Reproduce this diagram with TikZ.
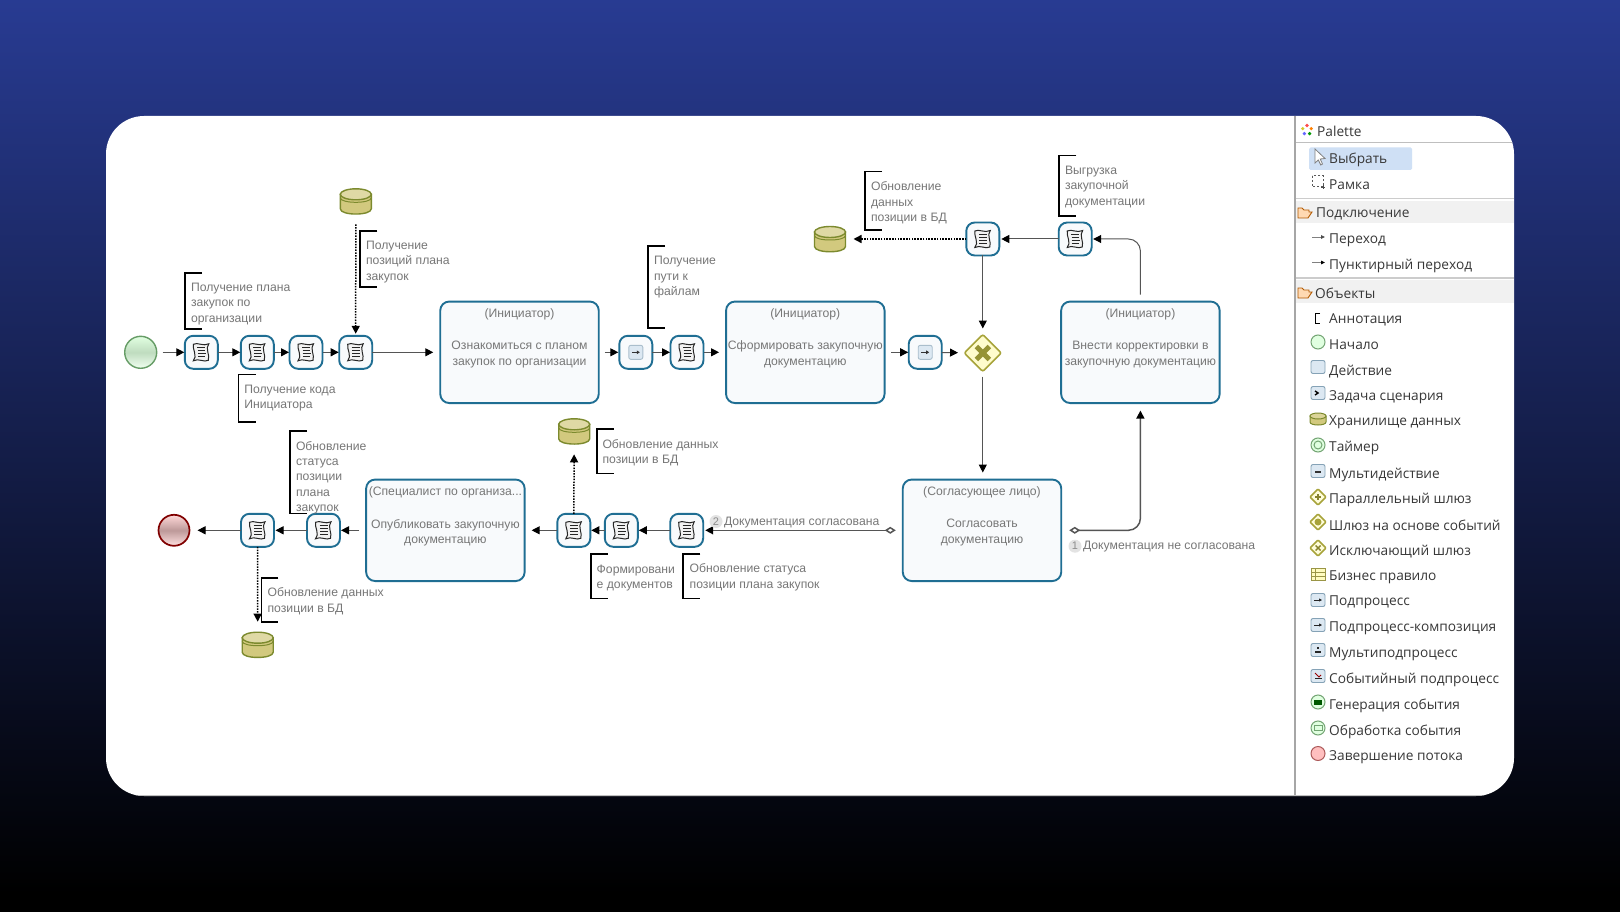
\documentclass[tikz,border=0pt]{standalone}
\usepackage{fontspec}
\setmainfont{Liberation Sans}
\newfontfamily\palfont{Open Sans}
\usetikzlibrary{arrows.meta,shapes.geometric,calc}
\definecolor{boxblue}{HTML}{1F6E93}
\definecolor{taskfill}{HTML}{F8FAFC}
\definecolor{linegray}{HTML}{555555}
\definecolor{txtgray}{HTML}{777777}
\definecolor{dbline}{HTML}{7C8A2E}
\definecolor{dbfill}{HTML}{D2C97E}
\definecolor{navytop}{HTML}{283B92}
\definecolor{bluehi}{HTML}{CFE0F5}
\definecolor{palband}{HTML}{F1F1F1}
\definecolor{iconblue}{HTML}{DCE8F2}
\definecolor{iconedge}{HTML}{85A2B6}
\definecolor{gwline}{HTML}{A7A33A}
\pgfdeclareverticalshading{bgshade}{100bp}{color(0bp)=(black); color(26bp)=(black); color(75bp)=(navytop); color(100bp)=(navytop)}
\pgfdeclareverticalshading{startshade}{100bp}{color(0bp)=(white!80!green!30!white); color(25bp)=(white!80!green!30!white); color(50bp)=(green!45!black!25!white); color(75bp)=(green!12!white); color(100bp)=(green!12!white)}
\pgfdeclareverticalshading{endshade}{100bp}{color(0bp)=(red!12!white); color(25bp)=(red!12!white); color(50bp)=(red!35!black!40!white); color(75bp)=(red!15!white); color(100bp)=(red!15!white)}
\tikzset{
  taskbox/.style={draw=boxblue,line width=1.9pt,rounded corners=9pt,fill=taskfill,minimum width=158.5pt,minimum height=101.5pt,inner sep=0pt,outer sep=0pt},
  minibox/.style={draw=boxblue,line width=1.9pt,rounded corners=8.5pt,fill=taskfill,minimum width=33pt,minimum height=33pt,inner sep=0pt,outer sep=0pt},
  dbbox/.style={minimum width=32pt,minimum height=26pt,inner sep=0pt,outer sep=0pt},
  startev/.style={circle,draw=green!35!black!60!white,line width=1.4pt,minimum size=32pt,inner sep=0pt,outer sep=0pt,shading=startshade},
  endev/.style={circle,draw=red!50!black,line width=1.7pt,minimum size=31pt,inner sep=0pt,outer sep=0pt,shading=endshade},
  gateway/.style={diamond,draw=gwline,line width=1.6pt,fill=yellow!20!white,minimum size=37pt,inner sep=0pt,outer sep=0pt,rounded corners=2pt},
  flow/.style={draw=linegray,line width=1pt,-{Triangle[length=8pt,width=8pt,black]}},
  dotflow/.style={draw=black,line width=1.5pt,dash pattern=on 1.5pt off 1.3pt,-{Triangle[length=8pt,width=8pt,black]}},
  guard/.style={draw=linegray,line width=1.5pt,{Diamond[open,length=11pt,width=7pt]}-{Triangle[length=8pt,width=8pt,black]}},
  txt/.style={font=\fontsize{12.2}{15.35}\selectfont,text=txtgray,inner sep=0pt,outer sep=0pt},
  annot/.style={txt,align=left,anchor=west},
  bracket/.style={draw=black,line width=1.6pt},
  badge/.style={circle,fill=black!11,text=black!45,font=\fontsize{11}{11}\selectfont,minimum size=13pt,inner sep=0pt},
  paltext/.style={font=\palfont\fontsize{13.7}{16}\selectfont,text=black!78,anchor=west,inner sep=0pt},
  palsq/.style={draw=iconedge,line width=.9pt,fill=iconblue,rounded corners=2pt},
}
\newcommand\scripticon[1]{\begin{scope}[shift={(#1.center)}]
  \draw[fill=black!5,draw=black!85,line width=1pt] (-8,-8) .. controls (-4,-10.5) and (2,-5.5) .. (7.5,-8.5) .. controls (3.5,-4) and (9,3) .. (7,8) .. controls (3,10.5) and (-3,5.5) .. (-8,8.5) .. controls (-3.5,4) and (-9,-3) .. (-8,-8) -- cycle;
  \draw[black!85,line width=1pt] (-4,-4.5) -- (4,-4.5) (-3.5,-1.5) -- (4,-1.5) (-3.5,1.5) -- (4.5,1.5) (-3.5,4.5) -- (4,4.5);
\end{scope}}
\newcommand\subicon[1]{\begin{scope}[shift={(#1.center)}]
  \draw[fill=iconblue,draw=iconedge!70,line width=.9pt,rounded corners=2pt] (-7,-7) rectangle (7,7);
  \draw[black!80,line width=.9pt,-{Triangle[length=3pt,width=3.5pt]}] (-4,0) -- (4,0);
\end{scope}}
\newcommand\dbshape[1]{\begin{scope}[shift={(#1.center)}]
  \draw[draw=dbline,fill=dbfill,line width=1.4pt] (-15.5,-7) -- (-15.5,7.5) .. controls (-15.5,14.5) and (15.5,14.5) .. (15.5,7.5) -- (15.5,-7) -- cycle;
  \draw[draw=dbline,fill=dbfill!70!white,line width=1.4pt] (0,-7) ellipse (15.5pt and 5.5pt);
  \draw[draw=dbline,line width=1pt] (-15.5,-3.5) .. controls (-15.5,2.5) and (15.5,2.5) .. (15.5,-3.5);
\end{scope}}
\newcommand\anno[8]{% name x1 x2 y1 y2 textx texty text
  \draw[bracket] (#3,#4) -- (#2,#4) -- (#2,#5) -- (#3,#5);
  \node[annot] (#1) at (#6,#7+1.5) {#8};}
\newcommand\palitem[3]{\node[paltext] (#1) at (1329,#2+1) {#3};}
\newcommand\palsquare[1]{\draw[palsq] (1311,#1-6.5) rectangle (1325,#1+6.5);}
\newcommand\palcircle[3]{\draw[draw=#2,fill=#3,line width=1pt] (1318,#1) circle (7pt);}
\newcommand\paldiamond[1]{\draw[draw=gwline,fill=yellow!15!white,line width=1.5pt,rounded corners=1pt] (1318,#1-8) -- (1326,#1) -- (1318,#1+8) -- (1310,#1) -- cycle;}
\newcommand\folder[1]{\draw[draw=orange!70!black,fill=orange!30!white,line width=.9pt] (1298,#1+5) -- (1298,#1-5) -- (1302,#1-5) -- (1304,#1-3) -- (1309,#1-3) -- (1309,#1-1) -- (1312,#1-1) -- (1308,#1+5) -- cycle;}
\begin{document}
\begin{tikzpicture}[x=1pt,y=-1pt]
\useasboundingbox (0,0) rectangle (1620,912);
\path[shading=bgshade] (0,0) rectangle (1620,912);
\fill[white] (106,116) [rounded corners=38pt] rectangle (1514,796);

% ===== upper row
\node[startev] (start) at (140.7,352.3) {};
\node[minibox] (b1) at (201.3,352.3) {};
\node[minibox] (b2) at (257.3,352.3) {};
\node[minibox] (b3) at (306,352.3) {};
\node[minibox] (b4) at (355.7,352.3) {};
\node[taskbox] (t1) at (519.5,352.3) {};
\node[minibox] (b5) at (635.8,352.3) {};
\node[minibox] (b6) at (687,352.3) {};
\node[taskbox] (t2) at (805.3,352.3) {};
\node[minibox] (b7) at (925.2,352.3) {};
\node[gateway] (gw) at (982.8,353) {};
\node[taskbox] (t3) at (1140.4,352.3) {};
\node[minibox] (b8) at (982.8,239) {};
\node[minibox] (b9) at (1075.2,239) {};
\node[dbbox] (db1) at (355.8,201.3) {};
\node[dbbox] (db2) at (830,239) {};
% ===== lower row
\node[taskbox] (t4) at (982,530.3) {};
\node[minibox] (b14) at (686.7,530.3) {};
\node[minibox] (b13) at (621.3,530.3) {};
\node[minibox] (b12) at (573.8,530.3) {};
\node[taskbox] (t5) at (445.4,530.3) {};
\node[minibox] (b11) at (323.5,530.3) {};
\node[minibox] (b10) at (257.5,530.3) {};
\node[endev] (stop) at (174,530.3) {};
\node[dbbox] (db3) at (574.2,431.3) {};
\node[dbbox] (db4) at (257.7,644.7) {};

\foreach \n in {b1,b2,b3,b4,b6,b8,b9,b10,b11,b12,b13,b14}{\scripticon{\n}}
\subicon{b5}\subicon{b7}
\foreach \n in {db1,db2,db3,db4}{\dbshape{\n}}
\begin{scope}[shift={(gw.center)}]
  \draw[line width=5pt,gwline!90!black] (-6.5,-6.5) -- (6.5,6.5) (-6.5,6.5) -- (6.5,-6.5);
\end{scope}

% ===== connectors
\draw[flow,shorten <=6pt,shorten >=.5pt] (start) -- (b1);
\draw[flow,shorten >=.5pt] (b1) -- (b2);
\draw[flow,shorten >=.5pt] (b2) -- (b3);
\draw[flow,shorten >=.5pt] (b3) -- (b4);
\draw[flow,shorten >=7pt] (b4) -- (t1);
\draw[flow,shorten <=6pt,shorten >=1pt] (t1) -- (b5);
\draw[flow,shorten >=.5pt] (b5) -- (b6);
\draw[flow,shorten >=7pt] (b6) -- (t2);
\draw[flow,shorten <=6.5pt,shorten >=.5pt] (t2) -- (b7);
\draw[flow,shorten >=6.5pt] (b7) -- (gw);
\draw[flow,shorten >=6pt] (b8.south) -- (gw.north);
\draw[flow,shorten <=5pt,shorten >=7pt] (gw.south) -- (t4.north -| gw.south);
\draw[flow,rounded corners=12pt,shorten <=7pt,shorten >=1.5pt] (t3.north) |- (b9.east);
\draw[flow,shorten >=2pt] (b9) -- (b8);
\draw[dotflow,shorten >=7.5pt] (b8) -- (db2);
\draw[dotflow,shorten <=10pt,shorten >=2pt] (db1) -- (b4);
\draw[guard,rounded corners=12pt,shorten <=8pt,shorten >=7.5pt] (t4.east) -| (t3.south);
\draw[guard,shorten <=7pt,shorten >=2pt] (t4.west) -- (b14.east);
\draw[flow,shorten >=1pt] (b14) -- (b13);
\draw[flow,shorten >=1pt] (b13) -- (b12);
\draw[flow,shorten >=7pt] (b12) -- (t5);
\draw[flow,shorten <=7pt,shorten >=1pt] (t5) -- (b11);
\draw[flow,shorten >=1.5pt] (b11) -- (b10);
\draw[flow,shorten >=8pt] (b10) -- (stop);
\draw[dotflow,shorten >=10pt] (b12) -- (db3);
\draw[dotflow,shorten >=10pt] (b10) -- (db4);

% ===== task texts
\node[txt] (t1r) at (519.5,314.2) {(Инициатор)};
\node[txt,align=center] (t1b) at (519.5,354.5) {Ознакомиться с планом\\закупок по организации};
\node[txt] (t2r) at (805.3,314.2) {(Инициатор)};
\node[txt,align=center] (t2b) at (805.3,354.5) {Сформировать закупочную\\документацию};
\node[txt] (t3r) at (1140.4,314.2) {(Инициатор)};
\node[txt,align=center] (t3b) at (1140.4,354.5) {Внести корректировки в\\закупочную документацию};
\node[txt] (t4r) at (982,492.2) {(Согласующее лицо)};
\node[txt,align=center] (t4b) at (982,532.5) {Согласовать\\документацию};
\node[txt] (t5r) at (445.4,492.2) {(Специалист по организа...};
\node[txt,align=center] (t5b) at (445.4,532.5) {Опубликовать закупочную\\документацию};

% ===== annotations
\anno{a1}{185}{202}{272.7}{328.7}{191}{302.3}{Получение плана\\закупок по\\организации}
\anno{a2}{238.3}{255.7}{374.3}{421.7}{244.3}{396.7}{Получение кода\\Инициатора}
\anno{a3}{360}{377.3}{231}{286.7}{366}{260.5}{Получение\\позиций плана\\закупок}
\anno{a4}{648}{665}{246}{328}{654}{275.7}{Получение\\пути к\\файлам}
\anno{a5}{865}{882}{171.7}{230}{871}{201.3}{Обновление\\данных\\позиции в БД}
\anno{a6}{1058.7}{1076.4}{155.7}{216}{1065}{185.3}{Выгрузка\\закупочной\\документации}
\anno{a7}{289.8}{307}{431}{513.3}{296}{476}{Обновление\\статуса\\позиции\\плана\\закупок}
\anno{a8}{596.7}{613.6}{429}{473.3}{602.5}{451}{Обновление данных\\позиции в БД}
\anno{a9}{261.5}{278.3}{577.7}{621.7}{267.6}{599.7}{Обновление данных\\позиции в БД}
\anno{a10}{591}{607.8}{554}{598.3}{596.7}{576.5}{Формировани\\е документов}
\anno{a11}{683}{700.3}{554}{598.3}{689.7}{575.7}{Обновление статуса\\позиции плана закупок}

% ===== guards
\node[badge] (n2) at (716,521.5) {2};
\node[txt,anchor=west] (g2) at (724,522.3) {Документация согласована};
\node[badge] (n1) at (1075,546.2) {1};
\node[txt,anchor=west] (g1) at (1083,546.9) {Документация не согласована};

% ===== palette
\begin{scope}
\clip (106,116) [rounded corners=38pt] rectangle (1514,796);
\fill[palband] (1296,200.7) rectangle (1514,223);
\fill[palband] (1296,280) rectangle (1514,303);
\draw[black!25,line width=1.3pt] (1296,142.7) -- (1514,142.7);
\draw[black!20,line width=1.3pt] (1296,198.7) -- (1514,198.7);
\draw[black!20,line width=1.3pt] (1296,278) -- (1514,278);
\draw[black!35,line width=1.4pt] (1295,116) -- (1295,796);
\draw[black!25,line width=.8pt] (106,795.5) -- (1514,795.5);
\end{scope}
\fill[bluehi,rounded corners=1.5pt] (1309,147.5) rectangle (1412,170);

\foreach \a/\c in {90/red!70,162/orange,234/green!60!black,306/blue!60,18/yellow!80!black}{\fill[\c] (1307,130) ++(\a:-4.5) circle (1.8pt);}
\draw[black!50,line width=.8pt,fill=white] (1315,149) -- (1315,163) -- (1318.3,160) -- (1320.8,165) -- (1322.5,164) -- (1320.2,159) -- (1325,158.5) -- cycle;
\draw[black!65,line width=1pt,dash pattern=on 2pt off 2pt] (1312,176) rectangle (1323,187);
\draw[black!70,line width=.8pt] (1321,187) -- (1325,187) (1323,185) -- (1323,189);
\folder{213}\folder{293}
\draw[black!50,line width=.9pt,-{Triangle[length=4pt,width=3.5pt,black!70]}] (1312,237) -- (1325,237);
\draw[black!50,line width=.9pt,-{Triangle[length=4pt,width=3.5pt,black]}] (1312,262.5) -- (1325,262.5);
\draw[black,line width=1pt] (1320,313) -- (1315,313) -- (1315,323) -- (1320,323);
\palcircle{342}{green!35!black!55!white}{green!12!white}
\palsquare{367}
\palsquare{393}\draw[black,line width=1.4pt] (1315,391) -- (1318,393) -- (1315,395);
\begin{scope}[shift={(1318,419)}]
\draw[dbline,fill=dbfill,line width=1pt] (-8,-3) -- (-8,3) .. controls (-8,7) and (8,7) .. (8,3) -- (8,-3) -- cycle;
\draw[dbline,fill=dbfill!80!white,line width=1pt] (0,-3) ellipse (8pt and 3pt);
\end{scope}
\draw[draw=green!35!black!55!white,fill=green!12!white,line width=1pt] (1318,445) circle (7pt);
\draw[draw=green!35!black!55!white,line width=1pt] (1318,445) circle (4pt);
\palsquare{471}\draw[black!80,line width=1.2pt] (1315,472) -- (1321,472);
\paldiamond{497}\draw[gwline!80!black,line width=1.2pt] (1315,497) -- (1321,497) (1318,494) -- (1318,500);
\paldiamond{522}\fill[gwline] (1318,522) circle (3.5pt);
\paldiamond{548}\draw[gwline!80!black,line width=1.4pt] (1315.5,545.5) -- (1320.5,550.5) (1315.5,550.5) -- (1320.5,545.5);
\draw[draw=yellow!55!black,fill=yellow!25!white,line width=1pt] (1311,568) rectangle (1325,580);
\draw[yellow!55!black,line width=.8pt] (1311,572) -- (1325,572) (1311,576) -- (1325,576) (1315.5,568) -- (1315.5,580);
\palsquare{600}\draw[black!85,line width=.9pt,-{Triangle[length=3pt,width=3pt]}] (1314,600) -- (1322,600);
\palsquare{625}\draw[black!85,line width=.9pt,-{Triangle[length=3pt,width=3pt]}] (1314,625) -- (1322,625);
\palsquare{650}\draw[black!85,line width=1.1pt] (1315,652) -- (1321,652) (1318,647) -- (1318,648.5);
\palsquare{676}\draw[red!60!black,line width=1pt] (1315,673) -- (1319,677) -- (1321,675);\draw[black!85,line width=.9pt] (1315,678) -- (1322,678);
\palcircle{702}{green!35!black!55!white}{green!12!white}\fill[green!35!black] (1314,699.5) rectangle (1322,704.5);
\palcircle{728}{green!35!black!55!white}{green!12!white}\draw[green!35!black!55!white,line width=.8pt] (1314,725.5) rectangle (1322,730.5);
\draw[draw=red!50!black!65!white,fill=red!25!white,line width=1pt] (1318,753.5) circle (7pt);

\node[paltext] (pt) at (1317,131.3) {Palette};
\palitem{p1}{159}{Выбрать}
\palitem{p2}{183.7}{Рамка}
\node[paltext] (h1) at (1316,214) {Подключение};
\palitem{p3}{239.3}{Переход}
\palitem{p4}{265}{Пунктирный переход}
\node[paltext] (h2) at (1315,293) {Объекты};
\palitem{p5}{319}{Аннотация}
\palitem{p6}{343.7}{Начало}
\palitem{p7}{370.3}{Действие}
\palitem{p8}{396.3}{Задача сценария}
\palitem{p9}{421.7}{Хранилище данных}
\palitem{p10}{447.3}{Таймер}
\palitem{p11}{473.5}{Мультидействие}
\palitem{p12}{499}{Параллельный шлюз}
\palitem{p13}{524.2}{Шлюз на основе событий}
\palitem{p14}{550.3}{Исключающий шлюз}
\palitem{p15}{576}{Бизнес правило}
\palitem{p16}{601.7}{Подпроцесс}
\palitem{p17}{627.3}{Подпроцесс-композиция}
\palitem{p18}{653.3}{Мультиподпроцесс}
\palitem{p19}{678.5}{Событийный подпроцесс}
\palitem{p20}{704.7}{Генерация события}
\palitem{p21}{730.5}{Обработка события}
\palitem{p22}{756}{Завершение потока}
\end{tikzpicture}
\end{document}
